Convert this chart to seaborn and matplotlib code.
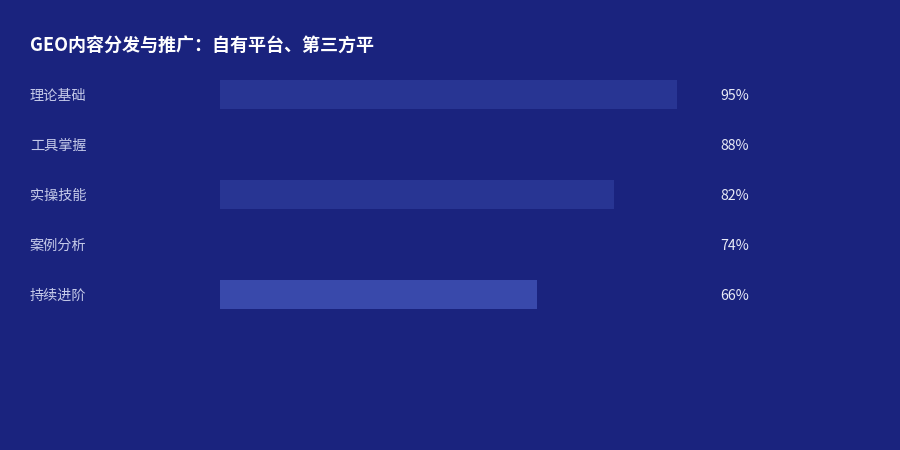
import matplotlib
matplotlib.use("Agg")
import matplotlib.pyplot as plt
import matplotlib.transforms as mtransforms
import pandas as pd
import seaborn as sns

# chart data
categories = ["理论基础", "工具掌握", "实操技能", "案例分析", "持续进阶"]
values = [95, 88, 82, 74, 66]
bar_colors = ["#283593", "#1a237e", "#283593", "#1a237e", "#3949ab"]
title = "GEO内容分发与推广：自有平台、第三方平"

BG = "#1a237e"

sns.set_theme(style="white")
plt.rcParams["font.family"] = ["Noto Sans CJK SC", "DejaVu Sans"]

df = pd.DataFrame({"category": categories, "value": values})

fig = plt.figure(figsize=(9, 4.5), dpi=100, facecolor=BG)
ax = fig.add_axes([220 / 900, (450 - 319.5) / 450, 481 / 900, 250 / 450])
ax.set_facecolor(BG)

sns.barplot(data=df, x="value", y="category", hue="category",
            palette=bar_colors, legend=False, width=0.58,
            saturation=1, linewidth=0, edgecolor="none", ax=ax)

ax.set_xlim(0, 100)
ax.set_ylim(4.5, -0.5)
ax.set_xlabel("")
ax.set_ylabel("")
ax.set_xticks([])
ax.set_yticks([])
for s in ax.spines.values():
    s.set_visible(False)

# labels on the left, percentages on the right (offset ~1px down)
trans = mtransforms.blended_transform_factory(fig.transFigure, ax.transData)
for i, (cat, v) in enumerate(zip(categories, values)):
    ax.text(30 / 900, i + 0.02, cat, transform=trans, ha="left", va="center",
            fontsize=10.2, color="#c5cae9")
    ax.text(720 / 900, i + 0.02, f"{v}%", transform=trans, ha="left", va="center",
            fontsize=10.2, color="#e8eaf6")

fig.text(30 / 900, 1 - 45 / 450, title, ha="left", va="center",
         fontsize=13, fontweight="bold", color="white")

fig.savefig("out.png", dpi=100, facecolor=BG)
